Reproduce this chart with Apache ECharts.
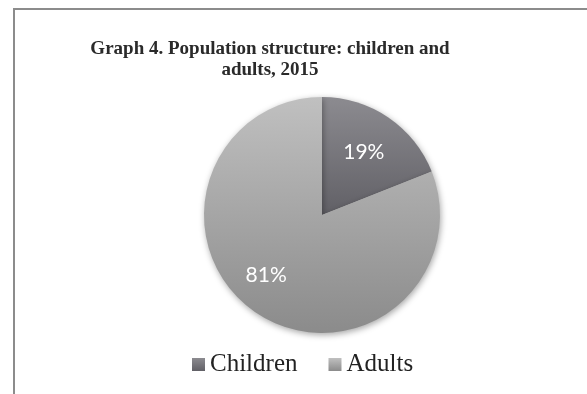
<!DOCTYPE html>
<html>
<head>
<meta charset="utf-8">
<script src="https://cdn.jsdelivr.net/npm/echarts@6/dist/echarts.min.js"></script>
<style>
  html, body { margin: 0; padding: 0; background: #fff; }
  #chart { width: 587px; height: 394px; }
</style>
</head>
<body>
<div id="chart"></div>
<script>
// values
const categories = ['Children', 'Adults'];
const shares = [19, 81];

// top / bottom shades of each slice
const shades = [
  ['#8c8b90', '#616066'],
  ['#c0c0c0', '#8b8b8b']
];
// nudge the labels to where they sit in the picture
const labelNudge = [[7, -11], [-21, 9]];

function grad(pair) {
  return new echarts.graphic.LinearGradient(0, 0, 0, 1, [
    { offset: 0, color: pair[0] },
    { offset: 1, color: pair[1] }
  ]);
}

const chart = echarts.init(document.getElementById('chart'));

chart.setOption({
  animation: false,
  title: {
    text: 'Graph 4. Population structure: children and\nadults, 2015',
    left: 265,
    textAlign: 'center',
    top: 34,
    textStyle: {
      fontFamily: 'Liberation Serif',
      fontWeight: 'bold',
      fontSize: 19,
      lineHeight: 21,
      color: '#2a2a2a'
    }
  },
  graphic: [{
    type: 'rect',
    shape: { x: 14, y: 9, width: 600, height: 420 },
    style: { fill: 'none', stroke: '#8c8c8c', lineWidth: 2 },
    silent: true
  }],
  legend: {
    left: 187,
    top: 347,
    icon: 'rect',
    itemWidth: 13,
    itemHeight: 13,
    itemGap: 31,
    textStyle: {
      fontFamily: 'Liberation Serif',
      fontSize: 25,
      color: '#222'
    },
    data: categories
  },
  series: [{
    type: 'pie',
    center: [322, 215],
    radius: 118,
    startAngle: 90,
    clockwise: true,
    label: {
      show: true,
      position: 'inside',
      formatter: '{c}%',
      color: '#fff',
      fontFamily: 'Lato',
      fontSize: 21
    },
    labelLine: { show: false },
    itemStyle: {
      shadowBlur: 6,
      shadowColor: 'rgba(0,0,0,0.35)',
      shadowOffsetX: 1,
      shadowOffsetY: 2
    },
    emphasis: { disabled: true },
    data: categories.map((name, i) => ({
      name,
      value: shares[i],
      itemStyle: { color: grad(shades[i]) },
      label: { offset: labelNudge[i] }
    }))
  }]
});
</script>
</body>
</html>
